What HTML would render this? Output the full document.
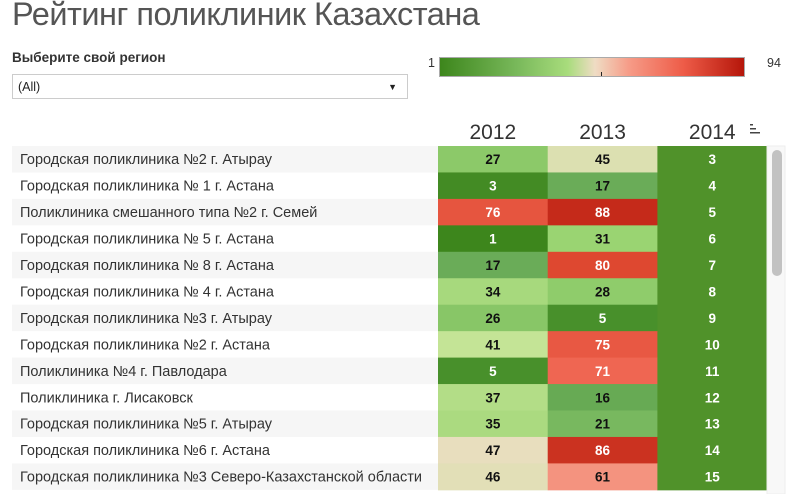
<!DOCTYPE html>
<html><head><meta charset="utf-8">
<style>
body{margin:0;width:800px;height:494px;overflow:hidden;background:#fff;font-family:"Liberation Sans",sans-serif;position:relative}
#title{position:absolute;left:12px;top:-4px;font-size:32.5px;color:#555;letter-spacing:-0.5px;white-space:nowrap}
#sel-label{position:absolute;left:12px;top:50px;font-size:13.5px;font-weight:bold;color:#333}
#dropdown{position:absolute;left:12px;top:74px;width:396px;height:25px;border:1px solid #ccc;box-sizing:border-box;font-size:12.5px;color:#222;line-height:24px;padding-left:5px}
#dropdown span{position:absolute;right:10px;top:0;font-size:9px}
#legend-bar{position:absolute;left:439px;top:57px;width:306px;height:20px;border:1px solid #aaa;box-sizing:border-box;background:linear-gradient(to right,#3d861c 0%,#78b85a 25%,#a8dc7c 42%,#efdcc4 51%,#f69c88 62%,#ee5c48 80%,#b5160a 100%)}
.lg{position:absolute;top:56px;font-size:12.5px;color:#333}
svg{position:absolute;left:0;top:0}
</style></head><body>
<div id="title">Рейтинг поликлиник Казахстана</div>
<div id="sel-label">Выберите свой регион</div>
<div id="dropdown">(All)<span>▼</span></div>
<div class="lg" style="left:428px">1</div>
<div id="legend-bar"><div style="position:absolute;left:161px;bottom:0;width:1px;height:4px;background:#222"></div></div>
<div class="lg" style="left:767px">94</div>
<svg id="chart" width="800" height="494"></svg>
<script>
const years=["2012","2013","2014"];
const clinics=["Городская поликлиника №2 г. Атырау","Городская поликлиника № 1 г. Астана","Поликлиника смешанного типа №2 г. Семей","Городская поликлиника № 5 г. Астана","Городская поликлиника № 8 г. Астана","Городская поликлиника № 4 г. Астана","Городская поликлиника №3 г. Атырау","Городская поликлиника №2 г. Астана","Поликлиника №4 г. Павлодара","Поликлиника г. Лисаковск","Городская поликлиника №5 г. Атырау","Городская поликлиника №6 г. Астана","Городская поликлиника №3 Северо-Казахстанской области"];
const v2012=[27,3,76,1,17,34,26,41,5,37,35,47,46];
const v2013=[45,17,88,31,80,28,5,75,71,16,21,86,61];
const v2014=[3,4,5,6,7,8,9,10,11,12,13,14,15];
const series=[v2012,v2013,v2014];
const NS="http://www.w3.org/2000/svg";
const svg=document.getElementById('chart');
const x0=438,colW=109.7,y0=146,rowH=26.45;
const xPos=i=>x0+i*colW, yPos=i=>y0+i*rowH;
const stops=[[1,[61,134,28]],[17,[106,172,88]],[30,[150,210,110]],[41,[196,228,150]],[47,[232,222,190]],[58,[246,160,140]],[72,[238,98,78]],[80,[222,72,48]],[94,[178,20,10]]];
function color(v){for(let i=0;i<stops.length-1;i++){const a=stops[i],b=stops[i+1];if(v<=b[0]){const t=Math.max(0,(v-a[0])/(b[0]-a[0]));return 'rgb('+a[1].map((c,k)=>Math.round(c+(b[1][k]-c)*t)).join(',')+')';}}return 'rgb(178,20,10)';}
function mk(tag,attrs,txt){const e=document.createElementNS(NS,tag);for(const k in attrs)e.setAttribute(k,attrs[k]);if(txt!==undefined)e.textContent=txt;svg.appendChild(e);return e;}
years.forEach((y,i)=>{
 const t=mk('text',{x:xPos(i)+colW/2,y:139,'text-anchor':'middle','font-size':21,fill:'#333','font-family':'Liberation Sans'},y);
 
 
});
const si=mk('g',{});


[[750,124,3],[750,128,6],[750,132,10]].forEach(r=>{const l=document.createElementNS(NS,'rect');l.setAttribute('x',r[0]);l.setAttribute('y',r[1]);l.setAttribute('width',r[2]);l.setAttribute('height',1.5);l.setAttribute('fill','#444');si.appendChild(l);});
clinics.forEach((c,r)=>{
 if(r%2===0){const bg=mk('rect',{x:12,y:yPos(r),width:426,height:rowH,fill:'#f6f6f6'});
 
 }
 const t=mk('text',{x:20,y:yPos(r)+rowH/2+5,'font-size':14.5,fill:'#333','font-family':'Liberation Sans',textLength:null},c);
 t.removeAttribute('textLength');
 
 
 series.forEach((s,i)=>{
  const v=s[r];
  const fill=i===2?'#50922a':color(v);
  const cell=mk('rect',{x:xPos(i),y:yPos(r),width:colW+0.5,height:rowH+0.5,fill:fill});
  
  
  const white=i===2||v<=15||v>=65;
  const lt=mk('text',{x:xPos(i)+colW/2,y:yPos(r)+rowH/2+5,'text-anchor':'middle','font-size':13.5,'font-weight':'bold',fill:white?'#fff':'#111','font-family':'Liberation Sans'},v);
  
  
 });
});
const tr=mk('rect',{x:767,y:146,width:18,height:348,fill:'#f8f8f8',stroke:'#eee'});


const th=mk('rect',{x:772,y:150,width:10,height:126,rx:5,fill:'#c2c2c2'});


</script>
</body></html>
